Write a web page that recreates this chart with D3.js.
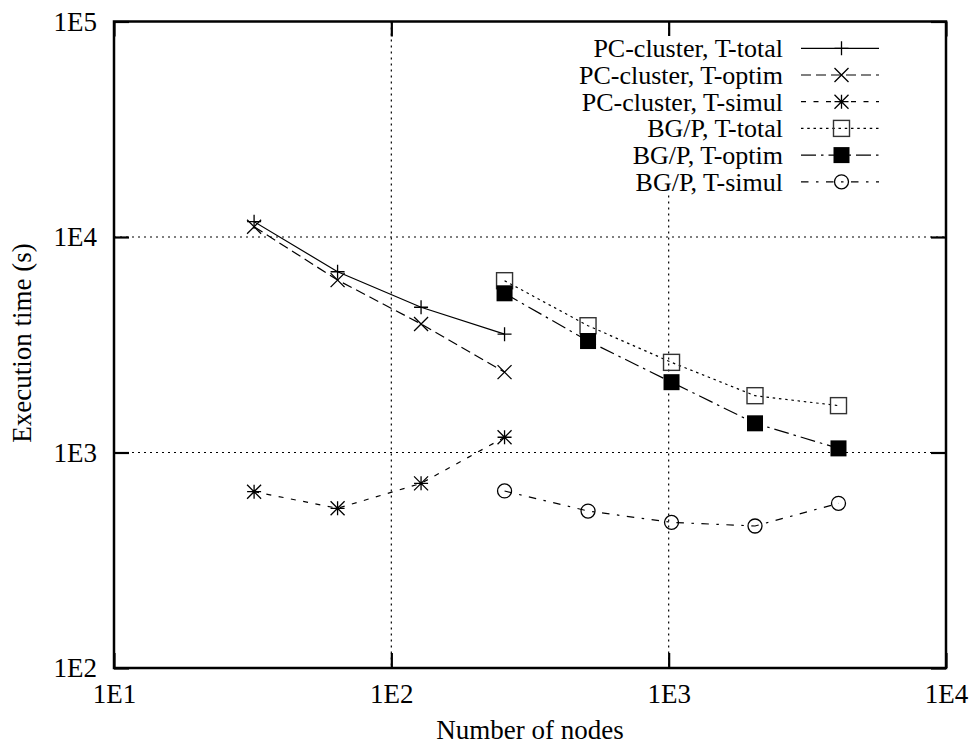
<!DOCTYPE html>
<html>
<head>
<meta charset="utf-8">
<script src="https://cdn.jsdelivr.net/npm/d3@7"></script>
<style>
  body { margin: 0; background: #fff; }
  text { font-family: "Liberation Serif", "DejaVu Serif", serif; font-size: 27px; fill: #000; }
</style>
</head>
<body>
<svg width="969" height="747"></svg>
<script>
// values
var pcNodes = [32, 64, 128, 256],
    bgNodes = [256, 512, 1024, 2048, 4096];

var pcTotal = [11780, 6900, 4720, 3540],
    pcOptim = [11160, 6310, 3950, 2360],
    pcSimul = [658, 551, 719, 1177],
    bgTotal = [6270, 3875, 2620, 1835, 1650],
    bgOptim = [5480, 3290, 2120, 1366, 1045],
    bgSimul = [663, 535, 474, 456, 581];

var seriesNames = ["PC-cluster, T-total", "PC-cluster, T-optim", "PC-cluster, T-simul",
                   "BG/P, T-total", "BG/P, T-optim", "BG/P, T-simul"];

var xTicks = [10, 100, 1000, 10000],
    yTicks = [100, 1000, 10000, 100000],
    xTitle = "Number of nodes",
    yTitle = "Execution time (s)";

var svg = d3.select("svg"),
    margin = {top: 21.5, right: 23, bottom: 79, left: 114},
    width = svg.attr("width") - margin.left - margin.right,
    height = svg.attr("height") - margin.top - margin.bottom;

var x = d3.scaleLog().domain([10, 10000]).range([0, width]),
    y = d3.scaleLog().domain([100, 100000]).range([height, 0]);

var fmt = function(d) { return "1E" + Math.round(Math.log10(d)); };

var g = svg.append("g")
    .attr("transform", "translate(" + margin.left + "," + margin.top + ")");

// grid
g.selectAll(".vgrid").data(xTicks.slice(1, -1)).enter().append("line")
    .attr("x1", function(d) { return x(d); }).attr("x2", function(d) { return x(d); })
    .attr("y1", 0).attr("y2", height)
    .style("stroke", "#000").style("stroke-width", 1.2).style("stroke-dasharray", "2,4");
g.selectAll(".hgrid").data(yTicks.slice(1, -1)).enter().append("line")
    .attr("y1", function(d) { return y(d); }).attr("y2", function(d) { return y(d); })
    .attr("x1", 0).attr("x2", width)
    .style("stroke", "#000").style("stroke-width", 1.2).style("stroke-dasharray", "2,4");

// axes with inward ticks
var tick = 15;
function styleAxis(sel) {
  sel.select(".domain").remove();
  sel.selectAll(".tick line").style("stroke", "#000").style("stroke-width", 2.2);
  sel.selectAll(".tick text").style("font-size", "27px")
    .style("font-family", "Liberation Serif, serif");
}
g.append("g").attr("transform", "translate(0," + height + ")")
    .call(d3.axisBottom(x).tickValues(xTicks).tickFormat(fmt).tickSize(-tick).tickPadding(16))
    .call(styleAxis);
g.append("g")
    .call(d3.axisTop(x).tickValues(xTicks).tickFormat("").tickSize(-tick))
    .call(styleAxis);
g.append("g")
    .call(d3.axisLeft(y).tickValues(yTicks).tickFormat(fmt).tickSize(-tick).tickPadding(17))
    .call(styleAxis);
g.append("g").attr("transform", "translate(" + width + ",0)")
    .call(d3.axisRight(y).tickValues(yTicks).tickFormat("").tickSize(-tick))
    .call(styleAxis);

// markers
function marker(sel, type, cx, cy) {
  var s = 7;
  if (type === "plus") {
    sel.append("path").attr("d", "M" + (cx - s) + "," + cy + "H" + (cx + s) + "M" + cx + "," + (cy - s) + "V" + (cy + s))
      .style("stroke", "#000").style("stroke-width", 1.3).style("fill", "none");
  } else if (type === "cross") {
    sel.append("path").attr("d", "M" + (cx - s) + "," + (cy - s) + "L" + (cx + s) + "," + (cy + s) + "M" + (cx - s) + "," + (cy + s) + "L" + (cx + s) + "," + (cy - s))
      .style("stroke", "#000").style("stroke-width", 1.3).style("fill", "none");
  } else if (type === "star") {
    sel.append("path").attr("d", "M" + (cx - s) + "," + cy + "H" + (cx + s) + "M" + cx + "," + (cy - s) + "V" + (cy + s) +
        "M" + (cx - s) + "," + (cy - s) + "L" + (cx + s) + "," + (cy + s) + "M" + (cx - s) + "," + (cy + s) + "L" + (cx + s) + "," + (cy - s))
      .style("stroke", "#000").style("stroke-width", 1.3).style("fill", "none");
  } else if (type === "box" || type === "fbox") {
    sel.append("rect").attr("x", cx - 8).attr("y", cy - 8).attr("width", 16).attr("height", 16)
      .style("stroke", type === "box" ? "#333" : "none").style("stroke-width", 1.4)
      .style("fill", type === "box" ? "none" : "#000");
  } else {
    sel.append("circle").attr("cx", cx).attr("cy", cy).attr("r", 7)
      .style("stroke", "#000").style("stroke-width", 1.3).style("fill", "none");
  }
}

var dashes = [null, "10,5", "5,7.5", "2.5,3.75", "15,5,2.5,5", "7.5,7.5,2.5,7.5"],
    types = ["plus", "cross", "star", "box", "fbox", "circle"];

var series = [
  {nodes: pcNodes, vals: pcTotal}, {nodes: pcNodes, vals: pcOptim}, {nodes: pcNodes, vals: pcSimul},
  {nodes: bgNodes, vals: bgTotal}, {nodes: bgNodes, vals: bgOptim}, {nodes: bgNodes, vals: bgSimul}
];

var line = d3.line()
    .x(function(d) { return x(d[0]); })
    .y(function(d) { return y(d[1]); });

series.forEach(function(s, i) {
  var pts = s.nodes.map(function(n, j) { return [n, s.vals[j]]; });
  g.append("path").datum(pts).attr("d", line)
    .style("fill", "none").style("stroke", "#000").style("stroke-width", 1.2)
    .style("stroke-dasharray", dashes[i]);
  pts.forEach(function(p) { marker(g, types[i], x(p[0]), y(p[1])); });
});

// legend
var lg = svg.append("g");
lg.append("rect").attr("x", 565).attr("y", 36).attr("width", 330).attr("height", 157).style("fill", "#fff");
seriesNames.forEach(function(name, i) {
  var ly = 48.3 + i * 26.7;
  lg.append("text").attr("x", 783).attr("y", ly).attr("dy", "0.34em")
    .style("text-anchor", "end").style("font-size", "26px").text(name);
  lg.append("line").attr("x1", 801).attr("x2", 879).attr("y1", ly).attr("y2", ly)
    .style("stroke", "#000").style("stroke-width", 1.2).style("stroke-dasharray", dashes[i]);
  marker(lg, types[i], 841.5, ly);
});

// frame
g.append("rect").attr("width", width).attr("height", height)
    .style("fill", "none").style("stroke", "#000").style("stroke-width", 2.5);

// titles
svg.append("text").attr("x", margin.left + width / 2).attr("y", 739)
    .style("text-anchor", "middle").text(xTitle);
svg.append("text").attr("transform", "translate(31,343) rotate(-90)")
    .style("text-anchor", "middle").text(yTitle);
</script>
</body>
</html>
